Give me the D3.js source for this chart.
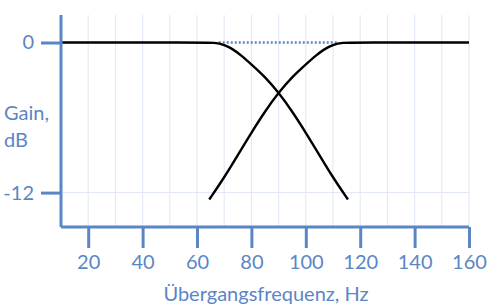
<!DOCTYPE html>
<html>
<head>
<meta charset="utf-8">
<script src="https://cdn.jsdelivr.net/npm/d3@7"></script>
<style>
  body { margin: 0; background: #fff; }
  text { font-family: Lato, "Open Sans", sans-serif; fill: #5b86c5; }
</style>
</head>
<body>
<svg width="488" height="306"></svg>
<script>
// tiefpass (falling) and hochpass (rising) curves, Hz / dB
let lowFreq = [10, 60, 67, 70, 73, 76, 80, 85, 90, 95, 100, 105, 110, 115.5];
let lowGain = [0, 0, 0, -0.18, -0.5, -0.98, -1.75, -2.75, -4.0, -5.5, -7.2, -9.0, -10.8, -12.55];
let highFreq = [64.5, 70, 75, 80, 85, 90, 95, 100, 104, 107, 110, 113, 120, 160];
let highGain = [-12.55, -10.8, -9.0, -7.2, -5.5, -4.0, -2.75, -1.75, -0.98, -0.5, -0.18, 0, 0, 0];
let sumFreq = [68, 112];
let xTicks = [20, 40, 60, 80, 100, 120, 140, 160];
let xGrid = [20, 30, 40, 50, 60, 70, 80, 90, 100, 110, 120, 130, 140, 150, 160];
let yTicks = [0, -12];

let svg = d3.select('svg');
let blue = '#5b86c5';
let x = d3.scaleLinear().domain([10, 160]).range([61, 469]);
let y = d3.scaleLinear().domain([-14.75, 2.2]).range([227, 15]);

// grid
svg.append('g').selectAll('line').data(xGrid).enter().append('line')
  .attr('x1', d => x(d)).attr('x2', d => x(d))
  .attr('y1', y(2.2)).attr('y2', y(-14.75))
  .attr('stroke', '#dfe7f3').attr('stroke-width', 1);
svg.append('line')
  .attr('x1', x(10)).attr('x2', x(160))
  .attr('y1', y(-12)).attr('y2', y(-12))
  .attr('stroke', '#dfe7f3').attr('stroke-width', 1);

// dotted 0 dB line
svg.append('line')
  .attr('x1', x(sumFreq[0])).attr('x2', x(sumFreq[1]))
  .attr('y1', y(0)).attr('y2', y(0))
  .attr('stroke', blue).attr('stroke-width', 2.5)
  .attr('stroke-dasharray', '2,2');

let line = d3.line()
  .x(d => x(d[0]))
  .y(d => y(d[1]))
  .curve(d3.curveBasis);

svg.append('path')
  .datum(d3.zip(lowFreq, lowGain))
  .attr('fill', 'none').attr('stroke', '#000').attr('stroke-width', 2.4)
  .attr('d', line);
svg.append('path')
  .datum(d3.zip(highFreq, highGain))
  .attr('fill', 'none').attr('stroke', '#000').attr('stroke-width', 2.4)
  .attr('d', line);

// axes
let gx = svg.append('g')
  .attr('transform', 'translate(0,' + y(-14.75) + ')')
  .call(d3.axisBottom(x).tickValues(xTicks).tickSize(21).tickPadding(7));
let gy = svg.append('g')
  .attr('transform', 'translate(' + x(10) + ',0)')
  .call(d3.axisLeft(y).tickValues(yTicks).tickFormat(d => String(d)).tickSize(20).tickPadding(7));

[gx, gy].forEach(g => {
  g.select('.domain').attr('stroke', blue).attr('stroke-width', 3);
  g.selectAll('.tick line').attr('stroke', blue).attr('stroke-width', 3);
  g.selectAll('.tick text').attr('fill', blue).style('font-size', '20px')
    .style('font-family', 'Lato, sans-serif');
});
gx.select('.domain').attr('d', 'M' + x(10) + ',0H' + x(160));
gy.select('.domain').attr('d', 'M0,' + y(2.2) + 'V' + y(-14.75));

svg.append('text')
  .attr('x', 266).attr('y', 301)
  .attr('text-anchor', 'middle')
  .style('font-size', '20px')
  .text('Übergangsfrequenz, Hz');

svg.append('text')
  .attr('x', 4).attr('y', 120)
  .style('font-size', '20px')
  .text('Gain,');
svg.append('text')
  .attr('x', 4).attr('y', 147)
  .style('font-size', '20px')
  .text('dB');
</script>
</body>
</html>
